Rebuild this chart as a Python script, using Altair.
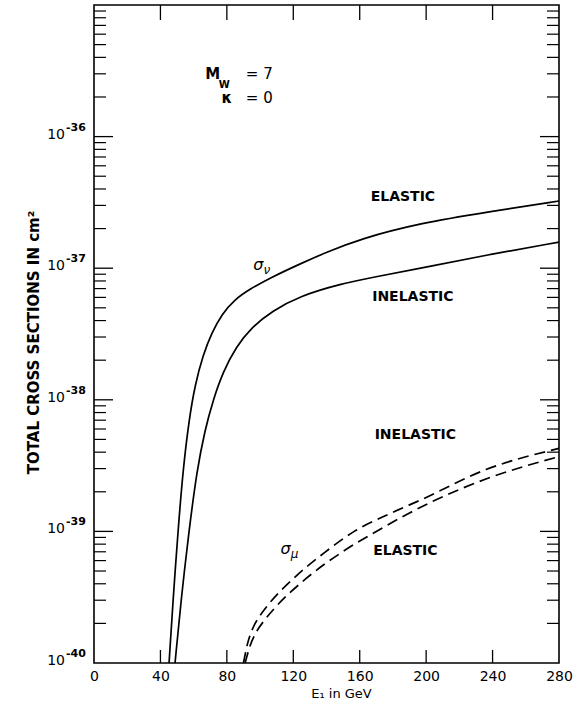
import altair as alt
import pandas as pd

# ---------------- data ----------------
# sigma_nu elastic (upper solid)
E_nu_el = [45.2, 47.6, 50.6, 53.6, 57.2, 60.8, 65.6, 71.1, 77.1, 84.3, 93.9, 107.2, 122.8, 139.1,
           160.2, 196.3, 236.6, 280]
S_nu_el = [1.0e-40, 3.01e-40, 1.01e-39, 2.93e-39, 7.02e-39, 1.29e-38, 2.19e-38, 3.27e-38, 4.49e-38,
           5.73e-38, 6.95e-38, 8.57e-38, 1.06e-37, 1.31e-37, 1.67e-37, 2.20e-37, 2.67e-37, 3.24e-37]
# sigma_nu inelastic (lower solid)
E_nu_in = [48.8, 52.4, 57.2, 62.0, 66.8, 71.7, 77.7, 85.5, 95.1, 107.2, 124.0, 148.1, 172.2, 196.3,
           236.6, 280]
S_nu_in = [1.0e-40, 3.01e-40, 1.01e-39, 2.93e-39, 5.89e-39, 9.95e-39, 1.63e-38, 2.52e-38, 3.57e-38,
           4.73e-38, 6.15e-38, 7.59e-38, 8.73e-38, 1.00e-37, 1.26e-37, 1.58e-37]
# sigma_mu inelastic (upper dashed)
E_mu_in = [90, 92.5, 95.5, 100, 106, 120, 138.8, 156.7, 179, 197, 236, 280]
S_mu_in = [1.0e-40, 1.41e-40, 1.82e-40, 2.29e-40, 2.88e-40, 4.37e-40, 6.9e-40, 1.0e-39, 1.38e-39,
           1.74e-39, 2.95e-39, 4.27e-39]
# sigma_mu elastic (lower dashed)
E_mu_el = [91, 94, 98, 103, 109, 127.6, 148.9, 170, 190, 206, 236, 280]
S_mu_el = [1.0e-40, 1.35e-40, 1.74e-40, 2.14e-40, 2.63e-40, 4.37e-40, 6.9e-40, 1.0e-39, 1.38e-39,
           1.74e-39, 2.5e-39, 3.7e-39]

x_tick_values = [0, 40, 80, 120, 160, 200, 240, 280]
x_inner_ticks = [40, 80, 120, 160, 200, 240]
y_decades = [1e-40, 1e-39, 1e-38, 1e-37, 1e-36]
y_decade_exps = ["-40", "-39", "-38", "-37", "-36"]
y_major_ticks = [1e-39, 1e-38, 1e-37, 1e-36]
y_minor_ticks = [k * 10.0 ** d for d in range(-40, -35) for k in range(2, 10)]

curve_labels = ["ELASTIC", "INELASTIC", "INELASTIC", "ELASTIC"]
curve_label_E = [186, 192, 193.5, 187.5]
curve_label_S = [3.45e-37, 6.0e-38, 5.4e-39, 7.1e-40]

sigma_sub = ["ν", "μ"]
sigma_E = [99, 115.4]
sigma_S = [1.05e-37, 7.4e-40]

param_sym = ["M", "κ"]
param_sym_E = [71.5, 80]
param_val = ["= 7", "= 0"]
param_val_E = [91.4, 91.4]
param_S = [3.0e-36, 1.95e-36]
sub_W_E = [78.5]
sub_W_S = [2.45e-36]

W, H = 465, 658
FONT = "DejaVu Sans"

# ---------------- tables ----------------
solid = pd.concat([
    pd.DataFrame({"E": E_nu_el, "S": S_nu_el, "curve": "nu_el"}),
    pd.DataFrame({"E": E_nu_in, "S": S_nu_in, "curve": "nu_in"}),
])
dashed = pd.concat([
    pd.DataFrame({"E": E_mu_in, "S": S_mu_in, "curve": "mu_in"}),
    pd.DataFrame({"E": E_mu_el, "S": S_mu_el, "curve": "mu_el"}),
])

xs = alt.Scale(domain=[0, 280], nice=False, zero=False)
ys = alt.Scale(type="log", domain=[1e-40, 1e-35], nice=False)

x_axis = alt.Axis(values=x_tick_values, ticks=False, domain=False, grid=False,
                  labelFont=FONT, labelFontSize=14, labelColor="black", labelPadding=6,
                  title="E₁ in GeV", titleFont=FONT, titleFontSize=13, titleFontWeight="normal",
                  titleColor="black", titlePadding=4, labelFlush=False, titleX=247)
y_axis = alt.Axis(labels=False, ticks=False, domain=False, grid=False,
                  title="TOTAL CROSS SECTIONS IN cm²", titleFont=FONT, titleFontSize=15,
                  titleFontWeight="bold", titleColor="black", titlePadding=53, titleY=337)

X = alt.X("E:Q", scale=xs, axis=x_axis)
Y = alt.Y("S:Q", scale=ys, axis=y_axis)

solid_lines = alt.Chart(solid).mark_line(color="black", strokeWidth=1.7, interpolate="basis").encode(
    x=X, y=Y, detail="curve:N")
dashed_lines = alt.Chart(dashed).mark_line(color="black", strokeWidth=1.7, interpolate="monotone",
                                           strokeDash=[11, 6]).encode(
    x=alt.X("E:Q", scale=xs), y=alt.Y("S:Q", scale=ys), detail="curve:N")

# ticks (drawn inward)
xt = pd.DataFrame({"E": x_inner_ticks})
x_ticks_bottom = alt.Chart(xt).mark_rule(color="black", strokeWidth=1.3).encode(
    x=alt.X("E:Q", scale=xs), y=alt.value(H), y2=alt.value(H - 13))
x_ticks_top = alt.Chart(xt).mark_rule(color="black", strokeWidth=1.3).encode(
    x=alt.X("E:Q", scale=xs), y=alt.value(0), y2=alt.value(15))

ymaj = pd.DataFrame({"S": y_major_ticks})
ymin = pd.DataFrame({"S": y_minor_ticks})
y_maj_left = alt.Chart(ymaj).mark_rule(color="black", strokeWidth=1.3).encode(
    y=alt.Y("S:Q", scale=ys), x=alt.value(0), x2=alt.value(19))
y_min_left = alt.Chart(ymin).mark_rule(color="black", strokeWidth=1.2).encode(
    y=alt.Y("S:Q", scale=ys), x=alt.value(0), x2=alt.value(12))
y_maj_right = alt.Chart(ymaj).mark_rule(color="black", strokeWidth=1.3).encode(
    y=alt.Y("S:Q", scale=ys), x=alt.value(W), x2=alt.value(W - 19))
y_min_right = alt.Chart(ymin).mark_rule(color="black", strokeWidth=1.2).encode(
    y=alt.Y("S:Q", scale=ys), x=alt.value(W), x2=alt.value(W - 12))

ylab = pd.DataFrame({"S": y_decades, "exp": y_decade_exps, "base": ["10"] * len(y_decades)})
y_lab_base = alt.Chart(ylab).mark_text(font=FONT, fontSize=14, align="right", baseline="middle",
                                       dx=-29, dy=-2, color="black").encode(
    y=alt.Y("S:Q", scale=ys), x=alt.value(0), text="base:N")
y_lab_exp = alt.Chart(ylab).mark_text(font=FONT, fontSize=11, fontWeight="bold", align="left",
                                      baseline="middle", dx=-28, dy=-9, color="black").encode(
    y=alt.Y("S:Q", scale=ys), x=alt.value(0), text="exp:N")

cl = pd.DataFrame({"E": curve_label_E, "S": curve_label_S, "t": curve_labels})
curve_text = alt.Chart(cl).mark_text(font=FONT, fontSize=14, fontWeight="bold", color="black",
                                     align="center", baseline="middle").encode(
    x=alt.X("E:Q", scale=xs), y=alt.Y("S:Q", scale=ys), text="t:N")

sg = pd.DataFrame({"E": sigma_E, "S": sigma_S, "sub": sigma_sub, "sig": ["σ", "σ"]})
sigma_main = alt.Chart(sg).mark_text(font=FONT, fontSize=16, fontStyle="italic", color="black",
                                     align="center", baseline="middle").encode(
    x=alt.X("E:Q", scale=xs), y=alt.Y("S:Q", scale=ys), text="sig:N")
sigma_subs = alt.Chart(sg).mark_text(font=FONT, fontSize=12, fontStyle="italic", color="black",
                                     align="left", baseline="middle", dx=5, dy=5).encode(
    x=alt.X("E:Q", scale=xs), y=alt.Y("S:Q", scale=ys), text="sub:N")

pr = pd.DataFrame({"E": param_sym_E, "S": param_S, "t": param_sym})
param_syms = alt.Chart(pr).mark_text(font=FONT, fontSize=15, fontWeight="bold", color="black",
                                     align="center", baseline="middle").encode(
    x=alt.X("E:Q", scale=xs), y=alt.Y("S:Q", scale=ys), text="t:N")
pv = pd.DataFrame({"E": param_val_E, "S": param_S, "t": param_val})
param_vals = alt.Chart(pv).mark_text(font=FONT, fontSize=15, color="black",
                                     align="left", baseline="middle").encode(
    x=alt.X("E:Q", scale=xs), y=alt.Y("S:Q", scale=ys), text="t:N")
pw = pd.DataFrame({"E": sub_W_E, "S": sub_W_S, "t": ["W"]})
param_w = alt.Chart(pw).mark_text(font=FONT, fontSize=10, fontWeight="bold", color="black",
                                  align="center", baseline="middle").encode(
    x=alt.X("E:Q", scale=xs), y=alt.Y("S:Q", scale=ys), text="t:N")

chart = alt.layer(
    solid_lines, dashed_lines, x_ticks_bottom, x_ticks_top,
    y_maj_left, y_min_left, y_maj_right, y_min_right, y_lab_base, y_lab_exp,
    curve_text, sigma_main, sigma_subs, param_syms, param_vals, param_w,
).properties(
    width=W, height=H,
    autosize=alt.AutoSizeParams(type="none"),
    padding={"left": 94, "top": 5, "right": 23, "bottom": 44},
    background="white",
).configure_view(stroke="black", strokeWidth=1.6)

chart.save("out.html", embed_options={"renderer": "svg", "actions": False})
